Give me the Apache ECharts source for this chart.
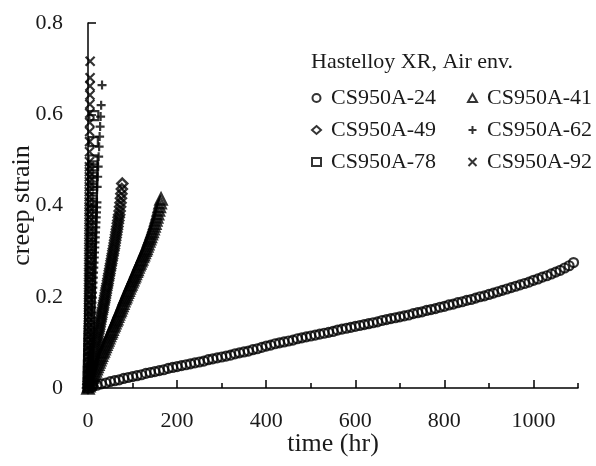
<!DOCTYPE html>
<html>
<head>
<meta charset="utf-8">
<script src="https://cdn.jsdelivr.net/npm/echarts@6/dist/echarts.min.js"></script>
<style>
  html, body { margin: 0; padding: 0; background: #fff; }
  #chart { width: 596px; height: 466px; }
</style>
</head>
<body>
<div id="chart"></div>
<script>
const FONT = "'Liberation Serif', 'DejaVu Serif', serif"

const seriesNames = ['CS950A-24', 'CS950A-41', 'CS950A-49', 'CS950A-62', 'CS950A-78', 'CS950A-92']
const xMajorTicks = [0, 200, 400, 600, 800, 1000]

// CS950A-24 (circles)
const t24 = [
  10, 20, 30, 40, 50, 60, 70, 80, 90, 100,
  110, 120, 130, 140, 150, 160, 170, 180, 190, 200,
  210, 220, 230, 240, 250, 260, 270, 280, 290, 300,
  310, 320, 330, 340, 350, 360, 370, 380, 390, 400,
  410, 420, 430, 440, 450, 460, 470, 480, 490, 500,
  510, 520, 530, 540, 550, 560, 570, 580, 590, 600,
  610, 620, 630, 640, 650, 660, 670, 680, 690, 700,
  710, 720, 730, 740, 750, 760, 770, 780, 790, 800,
  810, 820, 830, 840, 850, 860, 870, 880, 890, 900,
  910, 920, 930, 940, 950, 960, 970, 980, 990, 1000,
  1010, 1020, 1030, 1040, 1050, 1060, 1070, 1080, 1090
]
const s24 = [
  0.003, 0.006, 0.009, 0.011, 0.014, 0.016, 0.018, 0.021, 0.023, 0.025,
  0.027, 0.029, 0.032, 0.034, 0.036, 0.038, 0.040, 0.043, 0.045, 0.047,
  0.049, 0.051, 0.053, 0.055, 0.057, 0.059, 0.062, 0.064, 0.066, 0.068,
  0.070, 0.072, 0.075, 0.077, 0.079, 0.081, 0.084, 0.086, 0.089, 0.092,
  0.094, 0.097, 0.099, 0.101, 0.103, 0.105, 0.108, 0.110, 0.112, 0.114,
  0.116, 0.118, 0.120, 0.122, 0.124, 0.127, 0.129, 0.131, 0.133, 0.135,
  0.137, 0.139, 0.141, 0.143, 0.145, 0.148, 0.150, 0.152, 0.154, 0.156,
  0.158, 0.160, 0.163, 0.165, 0.167, 0.170, 0.172, 0.174, 0.177, 0.179,
  0.182, 0.184, 0.187, 0.189, 0.192, 0.194, 0.197, 0.200, 0.202, 0.205,
  0.208, 0.211, 0.214, 0.217, 0.220, 0.223, 0.226, 0.229, 0.232, 0.236,
  0.239, 0.243, 0.246, 0.250, 0.254, 0.258, 0.263, 0.268, 0.275
]

// CS950A-41 (triangles)
const t41 = [
  0, 2, 4, 6, 8, 10, 12, 14, 16, 18,
  20, 22, 24, 26, 28, 30, 32, 34, 36, 38,
  40, 42, 44, 46, 48, 50, 52, 54, 56, 58,
  60, 62, 64, 66, 68, 70, 72, 74, 76, 78,
  80, 82, 84, 86, 88, 90, 92, 94, 96, 98,
  100, 102, 104, 106, 108, 110, 112, 114, 116, 118,
  120, 122, 124, 126, 128, 130, 132, 134, 136, 138,
  140, 142, 144, 146, 148, 150, 152, 154, 156, 158,
  160, 162, 164
]
const s41 = [
  0.000, 0.005, 0.009, 0.013, 0.018, 0.023, 0.027, 0.032, 0.037, 0.042,
  0.047, 0.052, 0.057, 0.062, 0.067, 0.072, 0.077, 0.081, 0.086, 0.091,
  0.096, 0.101, 0.105, 0.110, 0.115, 0.120, 0.124, 0.129, 0.134, 0.138,
  0.143, 0.148, 0.152, 0.157, 0.162, 0.167, 0.171, 0.176, 0.181, 0.186,
  0.191, 0.196, 0.200, 0.205, 0.210, 0.214, 0.219, 0.224, 0.228, 0.233,
  0.237, 0.242, 0.246, 0.251, 0.256, 0.260, 0.265, 0.270, 0.274, 0.279,
  0.283, 0.288, 0.292, 0.297, 0.302, 0.306, 0.311, 0.316, 0.322, 0.327,
  0.332, 0.338, 0.343, 0.349, 0.355, 0.361, 0.368, 0.375, 0.382, 0.390,
  0.398, 0.406, 0.414
]

// CS950A-49 (diamonds)
const t49 = [
  0, 1, 2, 3, 4, 5, 6, 7, 8, 9,
  10, 11, 12, 13, 14, 15, 16, 17, 18, 19,
  20, 21, 22, 23, 24, 25, 26, 27, 28, 29,
  30, 31, 32, 33, 34, 35, 36, 37, 38, 39,
  40, 41, 42, 43, 44, 45, 46, 47, 48, 49,
  50, 51, 52, 53, 54, 55, 56, 57, 58, 59,
  60, 61, 62, 63, 64, 65, 66, 67, 68, 69,
  70, 71, 72, 73, 74, 75, 76, 77
]
const s49 = [
  0.000, 0.008, 0.014, 0.020, 0.025, 0.030, 0.035, 0.040, 0.044, 0.048,
  0.052, 0.056, 0.061, 0.066, 0.071, 0.077, 0.082, 0.087, 0.092, 0.098,
  0.103, 0.108, 0.113, 0.119, 0.124, 0.129, 0.134, 0.140, 0.145, 0.150,
  0.155, 0.161, 0.166, 0.171, 0.176, 0.182, 0.187, 0.192, 0.197, 0.203,
  0.208, 0.214, 0.219, 0.224, 0.229, 0.235, 0.240, 0.246, 0.251, 0.257,
  0.262, 0.268, 0.273, 0.279, 0.284, 0.290, 0.295, 0.301, 0.306, 0.312,
  0.318, 0.324, 0.330, 0.336, 0.342, 0.348, 0.354, 0.361, 0.367, 0.374,
  0.380, 0.388, 0.397, 0.406, 0.416, 0.426, 0.436, 0.448
]

// CS950A-62 (plus)
const t62 = [
  0, 0.3, 0.7, 1.2, 1.7, 2.3, 2.9, 3.5, 4.1, 4.7,
  5.3, 5.8, 6.4, 6.9, 7.5, 8.0, 8.6, 9.1, 9.7, 10.2,
  10.8, 11.3, 11.9, 12.4, 13.0, 13.5, 14.1, 14.6, 15.2, 15.7,
  16.3, 16.8, 17.4, 17.9, 18.5, 19.0, 19.6, 20.1, 20.6, 21.7,
  22.8, 23.9, 25.0, 26.1, 27.2, 28.3, 29.5, 31.5
]
const s62 = [
  0.000, 0.011, 0.022, 0.033, 0.044, 0.055, 0.066, 0.077, 0.088, 0.099,
  0.110, 0.121, 0.132, 0.143, 0.154, 0.165, 0.176, 0.187, 0.198, 0.209,
  0.220, 0.231, 0.242, 0.253, 0.264, 0.275, 0.286, 0.297, 0.308, 0.319,
  0.330, 0.341, 0.352, 0.363, 0.374, 0.385, 0.396, 0.407, 0.441, 0.463,
  0.485, 0.507, 0.529, 0.551, 0.573, 0.595, 0.620, 0.664
]

// CS950A-78 (squares)
const t78 = [
  0, 0.2, 0.4, 0.6, 0.9, 1.2, 1.5, 1.8, 2.2, 2.5,
  2.9, 3.2, 3.6, 3.9, 4.3, 4.6, 5.0, 5.3, 5.6, 5.9,
  6.2, 6.5, 6.8, 7.1, 7.4, 7.7, 8.0, 8.2, 8.5, 8.7,
  9.0, 9.2, 9.5, 9.7, 10.0, 10.2, 10.5, 10.7, 11.0, 11.2,
  11.5, 12.0, 13.0
]
const s78 = [
  0.000, 0.012, 0.025, 0.037, 0.050, 0.062, 0.075, 0.087, 0.100, 0.112,
  0.125, 0.137, 0.150, 0.162, 0.175, 0.187, 0.200, 0.212, 0.225, 0.237,
  0.250, 0.262, 0.275, 0.287, 0.300, 0.312, 0.325, 0.337, 0.350, 0.362,
  0.375, 0.387, 0.400, 0.412, 0.425, 0.437, 0.450, 0.462, 0.475, 0.487,
  0.500, 0.540, 0.597
]

// CS950A-92 (crosses)
const t92 = [
  0, 0.08, 0.15, 0.22, 0.3, 0.38, 0.45, 0.52, 0.6, 0.68,
  0.75, 0.82, 0.9, 0.98, 1.05, 1.12, 1.2, 1.28, 1.35, 1.42,
  1.5, 1.58, 1.65, 1.72, 1.8, 1.88, 1.95, 2.02, 2.1, 2.18,
  2.25, 2.32, 2.4, 2.48, 2.55, 2.62, 2.7, 2.78, 2.85, 2.92,
  3.0, 3.08, 3.15, 3.22, 3.3, 3.45, 3.6, 3.75, 3.9, 4.05,
  4.2, 4.35, 4.5, 4.65, 4.8
]
const s92 = [
  0.000, 0.016, 0.030, 0.043, 0.055, 0.067, 0.078, 0.089, 0.100, 0.111,
  0.122, 0.133, 0.144, 0.155, 0.166, 0.177, 0.188, 0.199, 0.210, 0.221,
  0.232, 0.243, 0.254, 0.265, 0.276, 0.287, 0.298, 0.309, 0.320, 0.331,
  0.342, 0.353, 0.364, 0.375, 0.386, 0.397, 0.408, 0.419, 0.430, 0.441,
  0.452, 0.463, 0.474, 0.485, 0.496, 0.518, 0.540, 0.562, 0.582, 0.602,
  0.622, 0.642, 0.662, 0.680, 0.716
]

const zip = (xs, ys) => xs.map((x, i) => [x, ys[i]])

const PLUS = 'path://M0,5L10,5M5,0L5,10'
const CROSS = 'path://M0,0L10,10M10,0L0,10'

const scatter = (name, data, symbol, size, bw) => ({
  name,
  type: 'scatter',
  data,
  symbol,
  symbolSize: size,
  symbolKeepAspect: true,
  itemStyle: {color: 'rgba(0,0,0,0)', borderColor: '#000', borderWidth: bw},
  emphasis: {disabled: true},
  silent: true
})

const chart = echarts.init(document.getElementById('chart'))

const legendBase = {
  orient: 'vertical',
  top: 87,
  padding: 0,
  itemWidth: 9,
  itemHeight: 8,
  itemGap: 10,
  textStyle: {fontFamily: FONT, fontSize: 22, lineHeight: 22, color: '#1a1a1a', padding: [0, 0, 0, 5]}
}

chart.setOption({
  animation: false,
  title: {
    text: 'Hastelloy XR, Air env.',
    left: 311,
    top: 51,
    padding: 0,
    textStyle: {fontFamily: FONT, fontSize: 22, fontWeight: 'normal', color: '#1a1a1a'}
  },
  legend: [
    Object.assign({left: 311, data: [seriesNames[0], seriesNames[2], seriesNames[4]]}, legendBase),
    Object.assign({left: 467, data: [seriesNames[1], seriesNames[3], seriesNames[5]]}, legendBase)
  ],
  grid: {left: 88, right: 18, top: 23, bottom: 78, containLabel: false, outerBoundsMode: 'none'},
  xAxis: [
    {
      type: 'value',
      position: 'bottom',
      min: 0,
      max: 1100,
      interval: 100,
      name: 'time (hr)',
      nameLocation: 'middle',
      nameGap: 43,
      nameMoveOverlap: false,
      nameTextStyle: {fontFamily: FONT, fontSize: 26, color: '#1a1a1a'},
      splitLine: {show: false},
      axisLine: {lineStyle: {color: '#000', width: 1.5}},
      axisTick: {inside: true, length: 5, lineStyle: {color: '#000', width: 1.5}},
      axisLabel: {
        fontFamily: FONT,
        fontSize: 22,
        color: '#1a1a1a',
        margin: 22,
        formatter: v => (v % 200 === 0 && v <= 1000 ? String(v) : '')
      }
    },
    {
      type: 'value',
      position: 'bottom',
      min: 0,
      max: 1100,
      interval: 200,
      splitLine: {show: false},
      axisLine: {show: false},
      axisLabel: {show: false},
      axisTick: {inside: true, length: 8, customValues: xMajorTicks, lineStyle: {color: '#000', width: 1.5}}
    }
  ],
  yAxis: {
    type: 'value',
    min: 0,
    max: 0.8,
    interval: 0.2,
    name: 'creep strain',
    nameLocation: 'middle',
    nameGap: 53,
    nameMoveOverlap: false,
    nameTextStyle: {fontFamily: FONT, fontSize: 26, color: '#1a1a1a'},
    splitLine: {show: false},
    axisLine: {show: true, lineStyle: {color: '#000', width: 1.5}},
    axisTick: {show: true, inside: true, length: 8, lineStyle: {color: '#000', width: 1.5}},
    axisLabel: {fontFamily: FONT, fontSize: 22, color: '#1a1a1a', margin: 25}
  },
  series: [
    scatter(seriesNames[0], zip(t24, s24), 'circle', 9, 2.2),
    scatter(seriesNames[1], zip(t41, s41), 'triangle', 11, 2.5),
    scatter(seriesNames[2], zip(t49, s49), 'diamond', 10, 2.5),
    scatter(seriesNames[3], zip(t62, s62), PLUS, 9, 2.2),
    scatter(seriesNames[4], zip(t78, s78), 'rect', 9, 2.2),
    scatter(seriesNames[5], zip(t92, s92), CROSS, 9, 2.2)
  ]
})
</script>
</body>
</html>
